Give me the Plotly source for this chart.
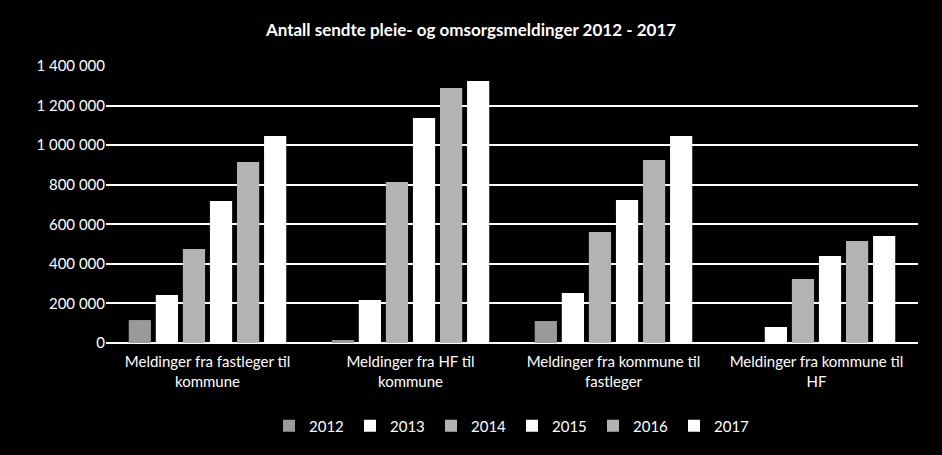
import plotly.graph_objects as go

GRAY_DARK = '#9a9a9a'
GRAY = '#b3b3b3'
WHITE = '#ffffff'

categories = [
    'Meldinger fra fastleger til<br>kommune',
    'Meldinger fra HF til<br>kommune',
    'Meldinger fra kommune til<br>fastleger',
    'Meldinger fra kommune til<br>HF',
]
years = ['2012', '2013', '2014', '2015', '2016', '2017']

v2012 = [116000, 15000, 111000, 0]
v2013 = [243000, 217000, 253000, 81000]
v2014 = [475000, 814000, 561000, 323000]
v2015 = [718000, 1137000, 723000, 440000]
v2016 = [915000, 1289000, 925000, 515000]
v2017 = [1046000, 1324000, 1046000, 541000]

series = [v2012, v2013, v2014, v2015, v2016, v2017]
colors = [GRAY_DARK, WHITE, GRAY, WHITE, GRAY, WHITE]

fig = go.Figure()
for year, vals, col in zip(years, series, colors):
    fig.add_trace(go.Bar(x=categories, y=vals, name=year, marker=dict(color=col, line=dict(width=0))))

fig.update_layout(
    width=942, height=455,
    paper_bgcolor='black', plot_bgcolor='black',
    font=dict(family='Lato, sans-serif', size=14, color='white'),
    title=dict(text='<b>Antall sendte pleie- og omsorgsmeldinger 2012 - 2017</b>',
               x=0.5, xanchor='center', y=0.935, yanchor='middle',
               font=dict(size=17, color='white')),
    margin=dict(l=106, r=24, t=66, b=112),
    barmode='group', bargap=0.2, bargroupgap=0.18,
    separators=', ',
    showlegend=True,
    legend=dict(orientation='h', x=0.5, xanchor='center', y=-0.3, yanchor='middle',
                font=dict(size=15, color='white'), itemwidth=30, traceorder='normal',
                entrywidth=36, entrywidthmode='pixels'),
)
fig.update_yaxes(range=[0, 1400000], dtick=200000, tickformat=',d', showgrid=True,
                 gridcolor='white', gridwidth=2, zeroline=True, zerolinecolor='white',
                 zerolinewidth=2, ticks='', tickfont=dict(size=15, color='white'), showline=False)
fig.update_xaxes(showline=False, ticks='', tickfont=dict(size=15, color='white'), tickangle=0,
                 ticklabelstandoff=8)

fig.write_html('out.html', config={'displayModeBar': False},
               post_script="document.body.style.margin='0';")
